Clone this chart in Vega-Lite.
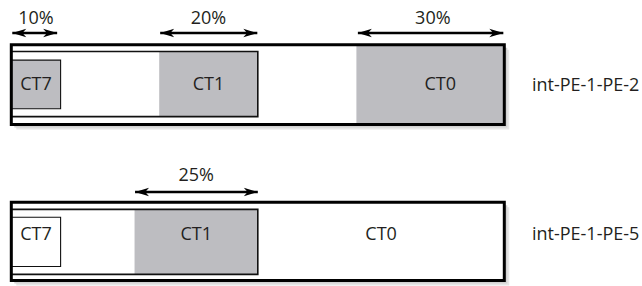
{
  "$schema": "https://vega.github.io/schema/vega-lite/v6.json",
  "width": 642,
  "height": 286,
  "padding": 0,
  "autosize": {"type": "fit", "contains": "padding"},
  "background": "white",
  "config": {"view": {"stroke": null}, "text": {"font": "Open Sans", "fontSize": 18, "color": "#231f20"}},
  "datasets": {
    "links": [
      {"link": "int-PE-1-PE-2", "x": 0, "x2": 100, "y": 45.3, "y2": 126.3, "lx": 116.5, "ly": 92.5},
      {"link": "int-PE-1-PE-5", "x": 0, "x2": 100, "y": 205, "y2": 284.5, "lx": 116.5, "ly": 243}
    ],
    "pools": [
      {"link": "int-PE-1-PE-2", "x": 0, "x2": 50, "y": 52.3, "y2": 118.3},
      {"link": "int-PE-1-PE-5", "x": 0, "x2": 50, "y": 212.3, "y2": 278.3}
    ],
    "classes": [
      {"link": "int-PE-1-PE-2", "ct": "CT7", "state": "reserved", "x": 0, "x2": 10, "y": 61, "y2": 110.3, "tx": 5, "ty": 91.5},
      {"link": "int-PE-1-PE-2", "ct": "CT1", "state": "reserved", "x": 30, "x2": 50, "y": 52.3, "y2": 118.3, "tx": 40, "ty": 91.5},
      {"link": "int-PE-1-PE-2", "ct": "CT0", "state": "reserved", "x": 70, "x2": 100, "y": 45.3, "y2": 126.3, "tx": 87, "ty": 91.5},
      {"link": "int-PE-1-PE-5", "ct": "CT7", "state": "unreserved", "x": 0, "x2": 10, "y": 220.3, "y2": 270.3, "tx": 5, "ty": 243},
      {"link": "int-PE-1-PE-5", "ct": "CT1", "state": "reserved", "x": 25, "x2": 50, "y": 212.3, "y2": 278.3, "tx": 37.5, "ty": 243},
      {"link": "int-PE-1-PE-5", "ct": "CT0", "state": "unreserved", "x": 50, "x2": 100, "y": 212.3, "y2": 278.3, "tx": 75, "ty": 243}
    ],
    "arrows": [
      {"label": "10%", "x": 0.2, "x2": 9.3, "y": 33.5, "mid": 5, "ly": 24.5},
      {"label": "20%", "x": 30.2, "x2": 49.9, "y": 33.5, "mid": 40, "ly": 24.5},
      {"label": "30%", "x": 70.3, "x2": 99.8, "y": 33.5, "mid": 85.5, "ly": 24.5},
      {"label": "25%", "x": 25.1, "x2": 50, "y": 194.7, "mid": 37.5, "ly": 184}
    ]
  },
  "layer": [
    {
      "data": {"name": "links"},
      "mark": {"type": "rect", "fill": "#e6e6e6", "xOffset": 5, "x2Offset": 5, "yOffset": 5, "y2Offset": 5},
      "encoding": {
        "x": {"field": "x", "type": "quantitative", "scale": {"domain": [-2.292, 127.93], "nice": false, "zero": false}, "axis": null},
        "x2": {"field": "x2"},
        "y": {"field": "y", "type": "quantitative", "scale": {"domain": [0, 286], "reverse": true, "nice": false, "zero": false}, "axis": null},
        "y2": {"field": "y2"}
      }
    },
    {
      "data": {"name": "links"},
      "mark": {"type": "rect", "fill": "#d2d2d2", "xOffset": 3, "x2Offset": 3, "yOffset": 3, "y2Offset": 3},
      "encoding": {
        "x": {"field": "x", "type": "quantitative", "axis": null},
        "x2": {"field": "x2"},
        "y": {"field": "y", "type": "quantitative", "axis": null},
        "y2": {"field": "y2"}
      }
    },
    {
      "data": {"name": "links"},
      "mark": {"type": "rect", "fill": "white"},
      "encoding": {
        "x": {"field": "x", "type": "quantitative", "axis": null},
        "x2": {"field": "x2"},
        "y": {"field": "y", "type": "quantitative", "axis": null},
        "y2": {"field": "y2"}
      }
    },
    {
      "data": {"name": "classes"},
      "mark": {"type": "rect"},
      "encoding": {
        "x": {"field": "x", "type": "quantitative", "axis": null},
        "x2": {"field": "x2"},
        "y": {"field": "y", "type": "quantitative", "axis": null},
        "y2": {"field": "y2"},
        "fill": {"field": "state", "type": "nominal", "scale": {"domain": ["reserved", "unreserved"], "range": ["#bdbdc1", "#ffffff"]}, "legend": null}
      }
    },
    {
      "data": {"name": "pools"},
      "mark": {"type": "rect", "filled": false, "stroke": "#111111", "strokeWidth": 1.6},
      "encoding": {
        "x": {"field": "x", "type": "quantitative", "axis": null},
        "x2": {"field": "x2"},
        "y": {"field": "y", "type": "quantitative", "axis": null},
        "y2": {"field": "y2"}
      }
    },
    {
      "data": {"name": "classes"},
      "transform": [{"filter": "datum.ct === 'CT7'"}],
      "mark": {"type": "rect", "filled": false, "stroke": "#111111", "strokeWidth": 1.1},
      "encoding": {
        "x": {"field": "x", "type": "quantitative", "axis": null},
        "x2": {"field": "x2"},
        "y": {"field": "y", "type": "quantitative", "axis": null},
        "y2": {"field": "y2"}
      }
    },
    {
      "data": {"name": "links"},
      "mark": {"type": "rect", "filled": false, "stroke": "#000000", "strokeWidth": 3},
      "encoding": {
        "x": {"field": "x", "type": "quantitative", "axis": null},
        "x2": {"field": "x2"},
        "y": {"field": "y", "type": "quantitative", "axis": null},
        "y2": {"field": "y2"}
      }
    },
    {
      "data": {"name": "arrows"},
      "mark": {"type": "rule", "color": "#000000", "strokeWidth": 2.6},
      "encoding": {
        "x": {"field": "x", "type": "quantitative", "axis": null},
        "x2": {"field": "x2"},
        "y": {"field": "y", "type": "quantitative", "axis": null}
      }
    },
    {
      "data": {"name": "arrows"},
      "mark": {"type": "point", "filled": true, "color": "#000000", "opacity": 1, "size": 196, "shape": "M -1 0 L 1 -0.6 L 0.45 0 L 1 0.6 Z", "xOffset": 7},
      "encoding": {
        "x": {"field": "x", "type": "quantitative", "axis": null},
        "y": {"field": "y", "type": "quantitative", "axis": null}
      }
    },
    {
      "data": {"name": "arrows"},
      "mark": {"type": "point", "filled": true, "color": "#000000", "opacity": 1, "size": 196, "shape": "M 1 0 L -1 -0.6 L -0.45 0 L -1 0.6 Z", "xOffset": -7},
      "encoding": {
        "x": {"field": "x2", "type": "quantitative", "axis": null},
        "y": {"field": "y", "type": "quantitative", "axis": null}
      }
    },
    {
      "data": {"name": "arrows"},
      "mark": {"type": "text", "align": "center", "baseline": "alphabetic"},
      "encoding": {
        "x": {"field": "mid", "type": "quantitative", "axis": null},
        "y": {"field": "ly", "type": "quantitative", "axis": null},
        "text": {"field": "label"}
      }
    },
    {
      "data": {"name": "classes"},
      "mark": {"type": "text", "align": "center", "baseline": "alphabetic"},
      "encoding": {
        "x": {"field": "tx", "type": "quantitative", "axis": null},
        "y": {"field": "ty", "type": "quantitative", "axis": null},
        "text": {"field": "ct"}
      }
    },
    {
      "data": {"name": "links"},
      "mark": {"type": "text", "align": "center", "baseline": "alphabetic"},
      "encoding": {
        "x": {"field": "lx", "type": "quantitative", "axis": null},
        "y": {"field": "ly", "type": "quantitative", "axis": null},
        "text": {"field": "link"}
      }
    }
  ]
}
